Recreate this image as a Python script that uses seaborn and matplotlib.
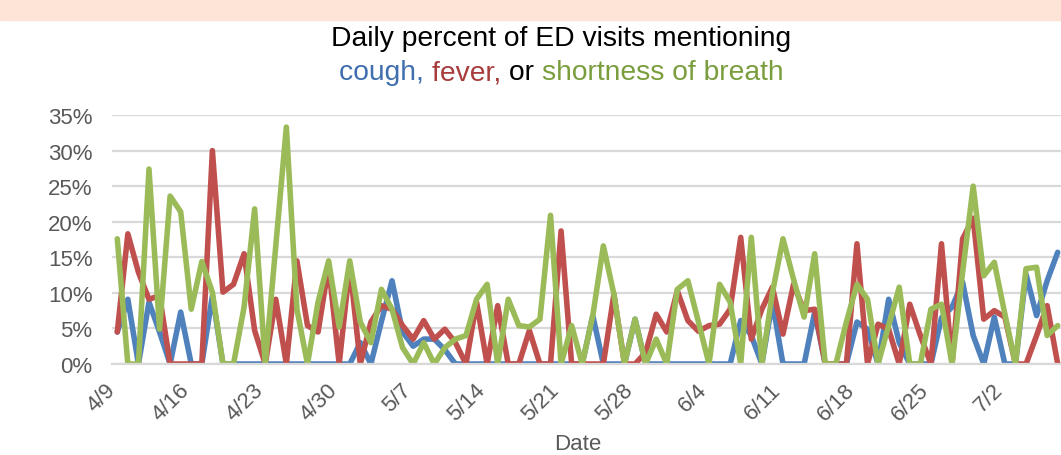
import pandas as pd
import matplotlib
matplotlib.use('Agg')
import matplotlib.pyplot as plt
import seaborn as sns
from matplotlib.patches import Rectangle
from matplotlib.offsetbox import TextArea, HPacker, AnnotationBbox

# daily percent of ED visits, 4/9 to 7/7
start = '2020-04-09'
cough = [4.5, 9.1, 0, 8.7, 4.5, 0, 7.3, 0, 0, 9.6,
         0, 0, 0, 0, 0, 0, 0, 0, 0, 0,
         0, 0, 0, 3.0, 0, 6.0, 11.7, 4.5, 2.5, 3.5,
         3.5, 2.0, 0, 0, 0, 0, 0, 0, 0, 0,
         0, 0, 0, 0, 0, 6.8, 0, 0, 0, 6.3,
         0, 0, 0, 0, 0, 0, 0, 0, 0, 6.1,
         4.0, 0, 8.7, 0, 0, 0, 7.3, 0, 0, 0,
         5.9, 4.9, 0, 9.1, 3.0, 0, 0, 0, 6.5, 8.0,
         11.5, 4.0, 0, 6.6, 0, 0, 12.6, 6.8, 11.7, 15.7]
fever = [4.5, 18.3, 12.9, 9.1, 9.6, 0, 0, 0, 0, 30.0,
         10.1, 11.2, 15.5, 4.7, 0, 9.1, 0, 14.5, 5.4, 4.5,
         13.8, 0, 13.8, 0, 5.9, 8.2, 7.7, 5.4, 3.5, 6.1,
         3.5, 4.9, 3.0, 0, 8.7, 0, 8.2, 0, 0, 4.7,
         0, 0, 18.7, 0, 0, 0, 0, 9.8, 0, 0,
         1.6, 7.0, 4.5, 10.3, 6.1, 4.6, 5.4, 5.6, 7.7, 17.8,
         3.5, 7.7, 10.8, 4.2, 11.2, 7.5, 7.7, 0, 0, 0,
         16.9, 0, 5.6, 4.9, 0, 8.4, 4.0, 0, 16.9, 0,
         17.6, 20.5, 6.3, 7.5, 6.6, 0, 0, 4.0, 8.2, 0]
breath = [17.6, 0, 0, 27.4, 4.9, 23.6, 21.4, 7.7, 14.4, 10.1,
          0, 0, 8.0, 21.8, 0, 16.6, 33.3, 7.7, 0, 8.7,
          14.5, 5.2, 14.5, 5.9, 3.0, 10.5, 7.7, 2.3, 0, 3.0,
          0, 2.3, 3.5, 4.0, 9.1, 11.2, 0, 9.1, 5.4, 5.2,
          6.3, 20.9, 0, 5.4, 0, 6.8, 16.6, 9.8, 0, 6.3,
          0, 3.5, 0, 10.5, 11.7, 5.9, 0, 11.2, 8.7, 0,
          17.8, 0, 10.0, 17.6, 11.9, 6.6, 15.5, 0, 0, 5.9,
          11.2, 9.1, 0, 5.4, 10.8, 0, 0, 7.7, 8.4, 0,
          12.9, 25.0, 12.4, 14.3, 7.0, 0, 13.4, 13.6, 4.0, 5.4]
tick_labels = ['4/9', '4/16', '4/23', '4/30', '5/7', '5/14', '5/21',
               '5/28', '6/4', '6/11', '6/18', '6/25', '7/2']

dates = pd.date_range(start, periods=len(cough), freq='D')
df = pd.DataFrame({'date': dates + pd.Timedelta(hours=12),
                   'cough': cough, 'fever': fever, 'breath': breath})
df = df.melt(id_vars='date', var_name='series', value_name='pct')

colors = {'cough': '#4F81BD', 'fever': '#C0504D', 'breath': '#9BBB59'}
gray = '#595959'
grid = '#D9D9D9'

sns.set_theme(style='white')
plt.rcParams['font.family'] = ['Liberation Sans', 'DejaVu Sans']

fig = plt.figure(figsize=(10.61, 4.56), dpi=100)
ax = fig.add_axes([112 / 1061, 91 / 456, 951 / 1061, 249 / 456])

sns.lineplot(data=df, x='date', y='pct', hue='series',
             hue_order=['cough', 'fever', 'breath'], palette=colors,
             linewidth=4.0, legend=False, ax=ax)

ax.set_ylim(0, 35)
ax.set_xlim(dates[0], dates[0] + pd.Timedelta(days=90))
ax.set_yticks(range(0, 36, 5))
ax.set_yticklabels([f'{v}%' for v in range(0, 36, 5)])
ax.set_xticks(pd.date_range(start, periods=len(tick_labels), freq='7D'))
ax.set_xticklabels(tick_labels, rotation=45, ha='right', va='center',
                   rotation_mode='anchor')
ax.yaxis.grid(True, color=grid, linewidth=1.6)
ax.set_axisbelow(True)
for s in ['left', 'right', 'top']:
    ax.spines[s].set_visible(False)
ax.spines['bottom'].set_color(grid)
ax.spines['bottom'].set_linewidth(1.6)
ax.tick_params(axis='x', length=6, width=1.2, color=grid, pad=10,
               labelsize=16, labelcolor=gray)
ax.tick_params(axis='y', length=0, pad=14, labelsize=16, labelcolor=gray)
ax.set_xlabel('')
ax.set_ylabel('')

fig.text(578 / 1061, 1 - 445 / 456, 'Date', ha='center', va='center',
         fontsize=16, color=gray)

# peach strip at the top
fig.patches.append(Rectangle((0, 1 - 21 / 456), 1, 21 / 456,
                             transform=fig.transFigure, color='#FCE4D6',
                             zorder=0))

title_font = ['Liberation Sans', 'DejaVu Sans']
fig.text(0.529, 1 - 39 / 456, 'Daily percent of ED visits mentioning',
         ha='center', va='center', fontsize=20.3, color='black',
         family=title_font)

parts = [('cough, ', '#3F6FAE'), ('fever, ', '#A83C3C'), ('or ', 'black'),
         ('shortness of breath', '#7A9E3E')]
boxes = [TextArea(t, textprops=dict(color=c, fontsize=20.3, family=title_font))
         for t, c in parts]
pack = HPacker(children=boxes, pad=0, sep=0, align='baseline')
ab = AnnotationBbox(pack, (0.529, 1 - 73 / 456), xycoords='figure fraction',
                    frameon=False, box_alignment=(0.5, 0.5),
                    annotation_clip=False)
fig.add_artist(ab)

fig.savefig('out.png', dpi=100)
